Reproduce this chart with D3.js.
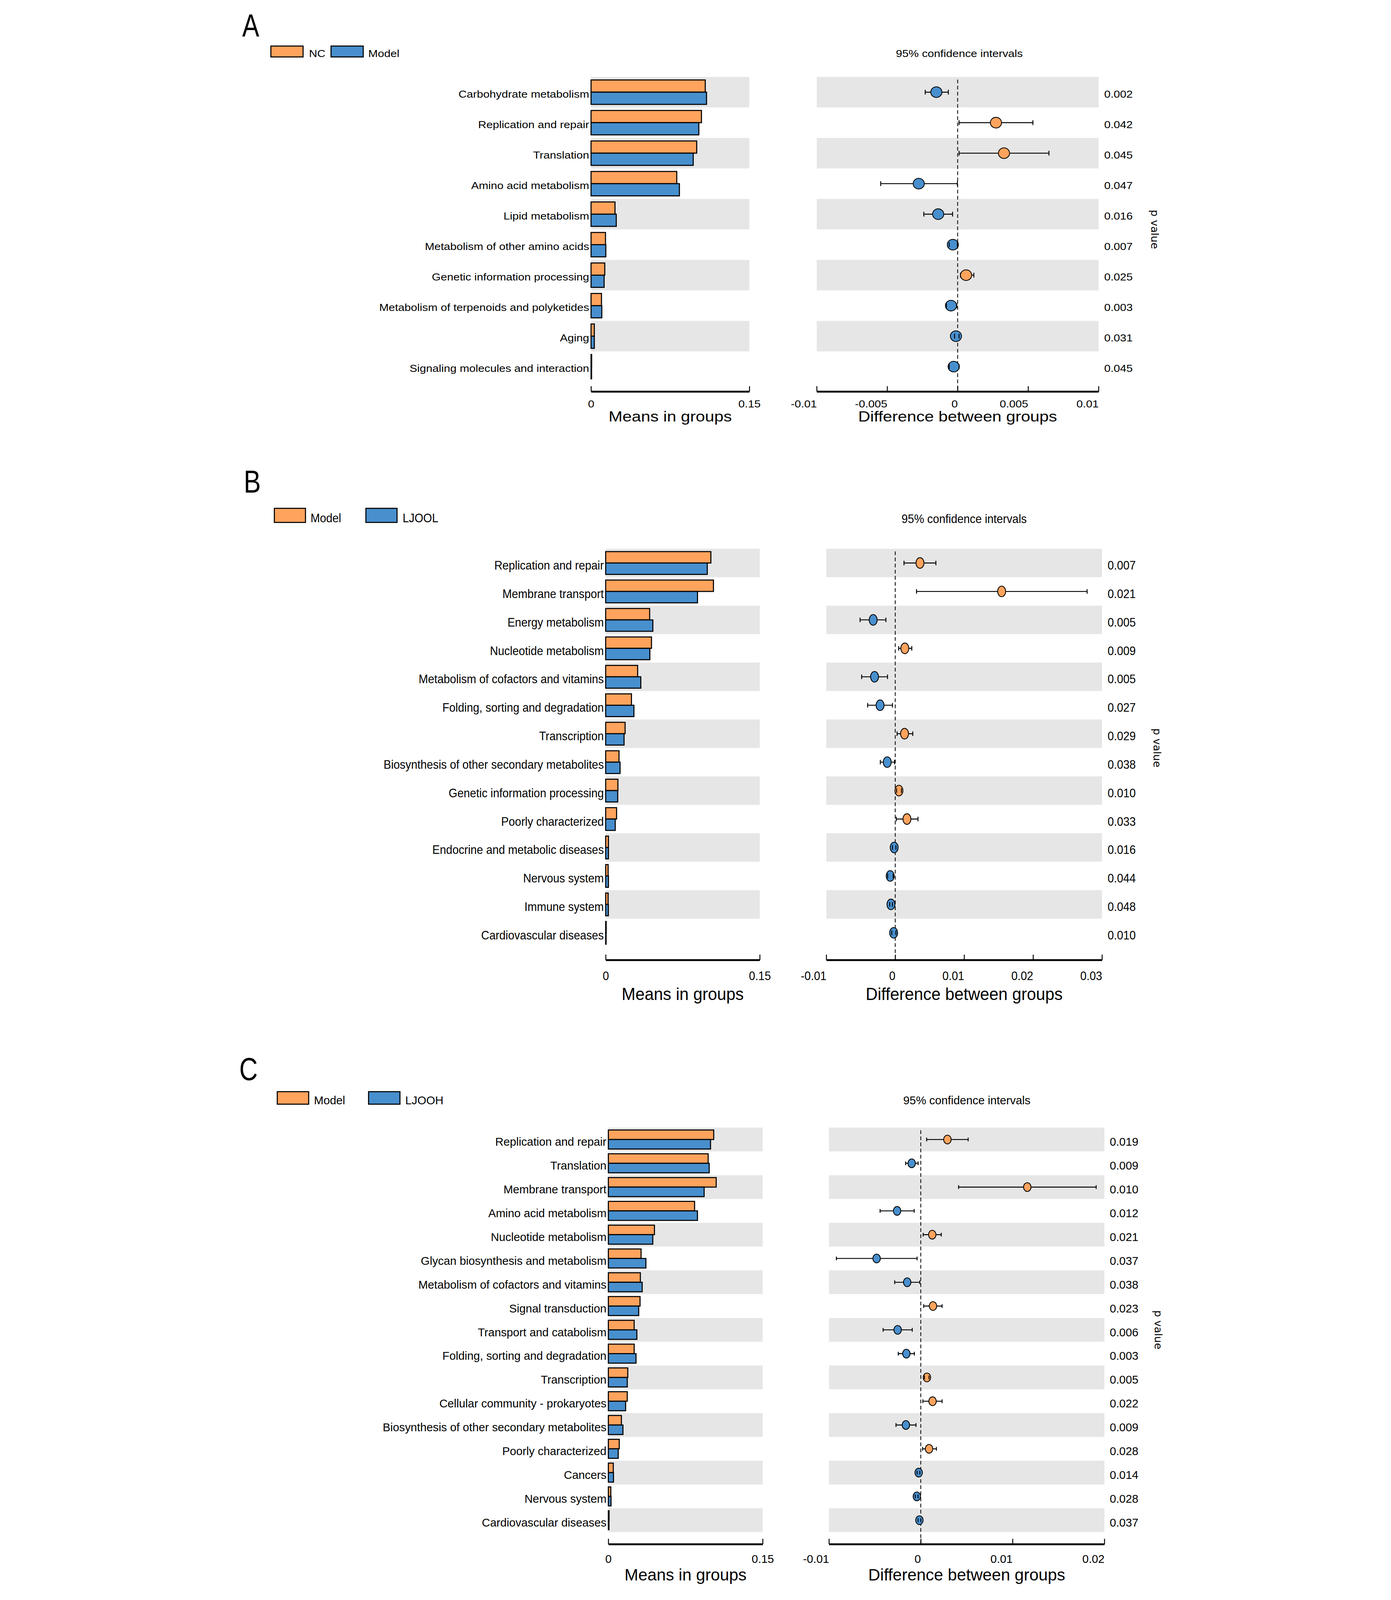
<!DOCTYPE html>
<html>
<head>
<meta charset="utf-8">
<script src="https://d3js.org/d3.v7.min.js"></script>
<style>
  html, body { margin: 0; padding: 0; background: #fff; overflow: hidden; }
  svg { display: block; }
  text { font-family: "Liberation Sans", Arial, sans-serif; fill: #000; }
</style>
</head>
<body>
<svg id="chart" viewBox="0 0 3561 6012" preserveAspectRatio="xMidYMin meet"></svg>
<script>
// ---------- Panel A: NC vs Model ----------
var aCategories = ["Carbohydrate metabolism", "Replication and repair", "Translation",
    "Amino acid metabolism", "Lipid metabolism", "Metabolism of other amino acids",
    "Genetic information processing", "Metabolism of terpenoids and polyketides",
    "Aging", "Signaling molecules and interaction"];
var aGroups = ["NC", "Model"];
var aMean1 = [0.1082, 0.1046, 0.1001, 0.0812, 0.0227, 0.0137, 0.0130, 0.0099, 0.0031, 0.0006];
var aMean2 = [0.1094, 0.1021, 0.0968, 0.0837, 0.0239, 0.0140, 0.0124, 0.0102, 0.0031, 0.0005];
var aDiff = [-0.00151, 0.00272, 0.00329, -0.00276, -0.00138, -0.00034, 0.0006, -0.00047, -0.00012, -0.00028];
var aLow = [-0.0023, 0.0001, 0.0001, -0.00546, -0.0024, -0.0006, 0.0002, -0.0008, -0.00022, -0.0006];
var aHigh = [-0.00066, 0.00534, 0.00648, -0.00002, -0.00036, -0.00002, 0.00115, -0.00006, 0.0001, 0.0001];
var aP = ["0.002", "0.042", "0.045", "0.047", "0.016", "0.007", "0.025", "0.003", "0.031", "0.045"];
var aDiffTicks = [-0.01, -0.005, 0, 0.005, 0.01];
var aDiffTickLabels = ["-0.01", "-0.005", "0", "0.005", "0.01"];

// ---------- Panel B: Model vs LJOOL ----------
var bCategories = ["Replication and repair", "Membrane transport", "Energy metabolism",
    "Nucleotide metabolism", "Metabolism of cofactors and vitamins",
    "Folding, sorting and degradation", "Transcription",
    "Biosynthesis of other secondary metabolites", "Genetic information processing",
    "Poorly characterized", "Endocrine and metabolic diseases", "Nervous system",
    "Immune system", "Cardiovascular diseases"];
var bGroups = ["Model", "LJOOL"];
var bMean1 = [0.1024, 0.1049, 0.0428, 0.0446, 0.0311, 0.0251, 0.0189, 0.0130, 0.0119, 0.0106, 0.0027, 0.0024, 0.0024, 0.0005];
var bMean2 = [0.0989, 0.0894, 0.0459, 0.0430, 0.0342, 0.0275, 0.0179, 0.0140, 0.0117, 0.0093, 0.0027, 0.0027, 0.0026, 0.0004];
var bDiff = [0.00359, 0.01544, -0.0032, 0.00139, -0.003, -0.0022, 0.00135, -0.00116, 0.00054, 0.0017, -0.00015, -0.00073, -0.00062, -0.00023];
var bLow = [0.00127, 0.00309, -0.0051, 0.0005, -0.00487, -0.004, 0.00027, -0.00216, 0.0002, 0.00015, -0.0004, -0.0011, -0.0008, -0.0005];
var bHigh = [0.0059, 0.02784, -0.00135, 0.0024, -0.00112, -0.0004, 0.00255, -0.0001, 0.0009, 0.0033, 0.0001, -0.0003, -0.0004, 0.0001];
var bP = ["0.007", "0.021", "0.005", "0.009", "0.005", "0.027", "0.029", "0.038", "0.010", "0.033", "0.016", "0.044", "0.048", "0.010"];
var bDiffTicks = [-0.01, 0, 0.01, 0.02, 0.03];
var bDiffTickLabels = ["-0.01", "0", "0.01", "0.02", "0.03"];

// ---------- Panel C: Model vs LJOOH ----------
var cCategories = ["Replication and repair", "Translation", "Membrane transport",
    "Amino acid metabolism", "Nucleotide metabolism", "Glycan biosynthesis and metabolism",
    "Metabolism of cofactors and vitamins", "Signal transduction", "Transport and catabolism",
    "Folding, sorting and degradation", "Transcription", "Cellular community - prokaryotes",
    "Biosynthesis of other secondary metabolites", "Poorly characterized", "Cancers",
    "Nervous system", "Cardiovascular diseases"];
var cGroups = ["Model", "LJOOH"];
var cMean1 = [0.1024, 0.0970, 0.1048, 0.0838, 0.0448, 0.0318, 0.0311, 0.0308, 0.0251, 0.0251, 0.0189, 0.0184, 0.0127, 0.0106, 0.0048, 0.0024, 0.0007];
var cMean2 = [0.0993, 0.0980, 0.0931, 0.0866, 0.0432, 0.0365, 0.0329, 0.0295, 0.0277, 0.0269, 0.0184, 0.0168, 0.0142, 0.0096, 0.0050, 0.0026, 0.0006];
var cDiff = [0.0029, -0.00099, 0.0116, -0.00258, 0.00125, -0.00481, -0.00148, 0.00133, -0.00252, -0.00157, 0.00067, 0.00128, -0.00162, 0.0009, -0.00023, -0.00043, -0.00015];
var cLow = [0.00064, -0.00165, 0.00412, -0.00443, 0.00026, -0.00919, -0.00284, 0.00032, -0.0041, -0.00245, 0.0004, 0.00023, -0.0027, 0.0002, -0.0004, -0.0006, -0.0003];
var cHigh = [0.00516, -0.00029, 0.0191, -0.00072, 0.00223, -0.0004, -0.0001, 0.00232, -0.00093, -0.0007, 0.0009, 0.00232, -0.00052, 0.0017, -0.0001, -0.0003, 0.0000];
var cP = ["0.019", "0.009", "0.010", "0.012", "0.021", "0.037", "0.038", "0.023", "0.006", "0.003", "0.005", "0.022", "0.009", "0.028", "0.014", "0.028", "0.037"];
var cDiffTicks = [-0.01, 0, 0.01, 0.02];
var cDiffTickLabels = ["-0.01", "0", "0.01", "0.02"];

var meansTicks = [0, 0.15];
var meansTickLabels = ["0", "0.15"];

var ORANGE = "#FFA35D", BLUE = "#488FCE", BAND = "#E6E6E6";

window.onload = function() {
    // the drawing is laid out at 3561x6012 and fitted into the viewport
    var svg = d3.select("#chart")
        .attr("width", window.innerWidth)
        .attr("height", window.innerHeight);
    svg.append("rect").attr("width", 3561).attr("height", 6012).attr("fill", "#fff");

    drawPanel(svg, {
        letter: "A", letterX: 77, letterY: 137,
        categories: aCategories, groups: aGroups, mean1: aMean1, mean2: aMean2,
        diff: aDiff, low: aLow, high: aHigh, p: aP,
        diffTicks: aDiffTicks, diffTickLabels: aDiffTickLabels,
        top: 289, rowH: 114.6,
        meansX0: 1388, meansX1: 1983, diffX0: 2236, diffX1: 3295, diffDomain: [-0.01, 0.01],
        axisY: 1471, tickLabelY: 1531, titleY: 1583,
        pX: 3316, pLabelX: 3507,
        legendTop: 173, legendH: 41, legendRectX: [185, 411], legendW: 121, legendTextX: [328, 551],
        ciTitleX: 2772, ciTitleY: 214,
        rx: 21, ry: 20, capH: 18,
        font: 37, titleFont: 54, sx: 1.16
    });

    drawPanel(svg, {
        letter: "B", letterX: 83, letterY: 1851,
        categories: bCategories, groups: bGroups, mean1: bMean1, mean2: bMean2,
        diff: bDiff, low: bLow, high: bHigh, p: bP,
        diffTicks: bDiffTicks, diffTickLabels: bDiffTickLabels,
        top: 2062, rowH: 106.9,
        meansX0: 1443, meansX1: 2022, diffX0: 2272, diffX1: 3308, diffDomain: [-0.01, 0.03],
        axisY: 3607, tickLabelY: 3683, titleY: 3758,
        pX: 3329, pLabelX: 3515,
        legendTop: 1910, legendH: 53, legendRectX: [198, 542], legendW: 117, legendTextX: [334, 680],
        ciTitleX: 2790, ciTitleY: 1965,
        rx: 15, ry: 20, capH: 17,
        font: 45, titleFont: 66, sx: 0.94
    });

    drawPanel(svg, {
        letter: "C", letterX: 66, letterY: 4059,
        categories: cCategories, groups: cGroups, mean1: cMean1, mean2: cMean2,
        diff: cDiff, low: cLow, high: cHigh, p: cP,
        diffTicks: cDiffTicks, diffTickLabels: cDiffTickLabels,
        top: 4237, rowH: 89.4,
        meansX0: 1453, meansX1: 2033, diffX0: 2282, diffX1: 3317, diffDomain: [-0.01, 0.02],
        axisY: 5802, tickLabelY: 5872, titleY: 5938,
        pX: 3337, pLabelX: 3520,
        legendTop: 4102, legendH: 47, legendRectX: [209, 552], legendW: 118, legendTextX: [347, 690],
        ciTitleX: 2800, ciTitleY: 4149,
        rx: 14, ry: 16.5, capH: 14,
        font: 43, titleFont: 62, sx: 1
    });
}

/**
 * Adds a text node, optionally stretched horizontally by sx
 */
function addText(g, x, y, str, size, sx, anchor) {
    return g.append("text")
        .attr("transform", `translate(${x},${y}) scale(${sx},1)`)
        .attr("font-size", size)
        .attr("text-anchor", anchor || "start")
        .text(str);
}

/**
 * Draws one extended error bar panel (means bars + CI dots)
 */
function drawPanel(svg, p) {
    var g = svg.append("g");
    var n = p.categories.length;
    var rows = d3.range(n);

    // Scales
    var y = d3.scaleBand()
        .domain(rows)
        .range([p.top, p.top + p.rowH * n]);

    var yBar = d3.scaleBand()
        .domain([0, 1])
        .range([0, y.bandwidth()])
        .paddingOuter(0.25);

    var xMeans = d3.scaleLinear()
        .domain([0, 0.15])
        .range([p.meansX0, p.meansX1]);

    var xDiff = d3.scaleLinear()
        .domain(p.diffDomain)
        .range([p.diffX0, p.diffX1]);

    // Alternating grey bands
    var bands = rows.filter(i => i % 2 === 0);
    [[p.meansX0, p.meansX1], [p.diffX0, p.diffX1]].forEach(function(span) {
        g.selectAll(null)
            .data(bands)
            .enter().append("rect")
            .attr("x", span[0])
            .attr("width", span[1] - span[0])
            .attr("y", i => y(i))
            .attr("height", y.bandwidth())
            .attr("fill", BAND);
    });

    // Mean bars
    var series = [p.mean1, p.mean2];
    var colors = [ORANGE, BLUE];
    series.forEach(function(vals, s) {
        g.selectAll(null)
            .data(vals)
            .enter().append("rect")
            .attr("x", xMeans(0))
            .attr("width", d => xMeans(d) - xMeans(0))
            .attr("y", (d, i) => y(i) + yBar(s))
            .attr("height", yBar.bandwidth())
            .attr("fill", colors[s])
            .attr("stroke", "#000")
            .attr("stroke-width", 4);
    });

    // Category labels
    p.categories.forEach(function(c, i) {
        addText(g, p.meansX0 - 7, y(i) + y.bandwidth() / 2 + p.font * 0.55, c, p.font, p.sx, "end");
    });

    // Zero reference line
    g.append("line")
        .attr("x1", xDiff(0)).attr("x2", xDiff(0))
        .attr("y1", p.top + 10).attr("y2", p.axisY)
        .attr("stroke", "#000")
        .attr("stroke-width", 3)
        .attr("stroke-dasharray", "14,9");

    // Confidence interval lines
    g.selectAll(null)
        .data(rows)
        .enter().append("line")
        .attr("x1", i => xDiff(p.low[i]))
        .attr("x2", i => xDiff(p.high[i]))
        .attr("y1", i => y(i) + y.bandwidth() / 2)
        .attr("y2", i => y(i) + y.bandwidth() / 2)
        .attr("stroke", "#000")
        .attr("stroke-width", 3.5);

    // Difference points
    g.selectAll(null)
        .data(rows)
        .enter().append("ellipse")
        .attr("cx", i => xDiff(p.diff[i]))
        .attr("cy", i => y(i) + y.bandwidth() / 2)
        .attr("rx", p.rx)
        .attr("ry", p.ry)
        .attr("fill", i => p.diff[i] > 0 ? ORANGE : BLUE)
        .attr("stroke", "#000")
        .attr("stroke-width", 3);

    // End caps drawn on top
    ["low", "high"].forEach(function(k) {
        g.selectAll(null)
            .data(rows)
            .enter().append("line")
            .attr("x1", i => xDiff(p[k][i]))
            .attr("x2", i => xDiff(p[k][i]))
            .attr("y1", i => y(i) + y.bandwidth() / 2 - p.capH / 2)
            .attr("y2", i => y(i) + y.bandwidth() / 2 + p.capH / 2)
            .attr("stroke", "#000")
            .attr("stroke-width", 3.5);
    });

    // p values
    p.p.forEach(function(v, i) {
        addText(g, p.pX, y(i) + y.bandwidth() / 2 + p.font * 0.55, v, p.font, p.sx, "start");
    });

    g.append("text")
        .attr("transform", `translate(${p.pLabelX},${p.top + p.rowH * n / 2}) rotate(90)`)
        .attr("font-size", 40)
        .attr("text-anchor", "middle")
        .attr("dominant-baseline", "central")
        .style("font-family", "'DejaVu Sans', sans-serif")
        .text("p value");

    // Axes
    var meansAxis = d3.axisBottom(xMeans)
        .tickValues(meansTicks)
        .tickFormat((d, i) => meansTickLabels[i])
        .tickSizeInner(-20)
        .tickSizeOuter(0);

    var diffAxis = d3.axisBottom(xDiff)
        .tickValues(p.diffTicks)
        .tickFormat((d, i) => p.diffTickLabels[i])
        .tickSizeInner(-20)
        .tickSizeOuter(0);

    [[meansAxis, "middle"], [diffAxis, "end"]].forEach(function(a) {
        var ax = g.append("g")
            .attr("transform", `translate(0,${p.axisY})`)
            .call(a[0]);
        ax.select(".domain").attr("stroke-width", 7);
        ax.selectAll(".tick line").attr("stroke-width", 3.5);
        ax.selectAll(".tick text")
            .attr("y", null).attr("dy", null)
            .attr("fill", "#000")
            .attr("font-family", "'Liberation Sans', Arial, sans-serif")
            .attr("font-size", p.font)
            .attr("text-anchor", a[1])
            .attr("transform", `translate(0,${p.tickLabelY - p.axisY}) scale(${p.sx},1)`);
    });

    addText(g, (p.meansX0 + p.meansX1) / 2, p.titleY, "Means in groups", p.titleFont, p.sx, "middle");
    addText(g, (p.diffX0 + p.diffX1) / 2, p.titleY, "Difference between groups", p.titleFont, p.sx, "middle");

    // Legend
    p.groups.forEach(function(name, s) {
        g.append("rect")
            .attr("x", p.legendRectX[s])
            .attr("y", p.legendTop)
            .attr("width", p.legendW)
            .attr("height", p.legendH)
            .attr("fill", colors[s])
            .attr("stroke", "#000")
            .attr("stroke-width", 4);
        addText(g, p.legendTextX[s], p.legendTop + p.legendH, name, p.font, p.sx, "start");
    });

    addText(g, p.ciTitleX, p.ciTitleY, "95% confidence intervals", p.font, p.sx, "middle");

    // Panel letter
    addText(g, p.letterX, p.letterY, p.letter, 120, 0.8, "start");
}
</script>
</body>
</html>
